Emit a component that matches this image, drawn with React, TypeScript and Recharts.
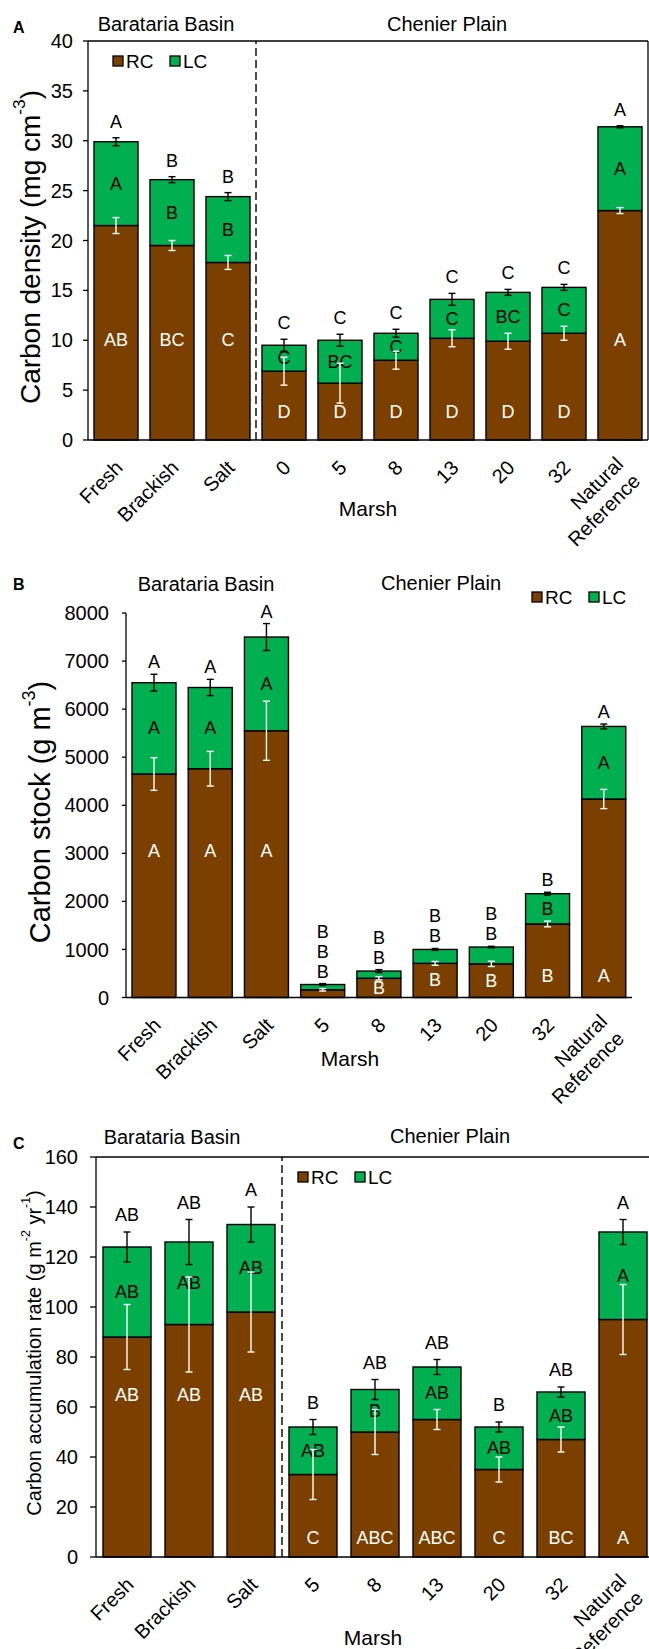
import React from 'react';
import { BarChart, Bar, XAxis, YAxis, ReferenceLine } from 'recharts';

const FONT = '"Liberation Sans", Arial, sans-serif';
const RC_COLOR = '#7B3F00';
const LC_COLOR = '#00B050';

// ---------- Panel A: carbon density (mg cm-3) ----------
const catsA = ['Fresh', 'Brackish', 'Salt', '0', '5', '8', '13', '20', '32', 'Natural Reference'];
const rcA = [21.5, 19.5, 17.8, 6.9, 5.7, 8.0, 10.2, 9.9, 10.7, 23.0];
const lcA = [8.4, 6.6, 6.6, 2.6, 4.3, 2.7, 3.9, 4.9, 4.6, 8.4];
const totErrA = [0.4, 0.3, 0.4, 0.6, 0.6, 0.4, 0.6, 0.3, 0.3, 0.1];
const rcErrA = [0.8, 0.5, 0.7, 1.4, 2.0, 0.9, 0.85, 0.8, 0.7, 0.3];
const topLetA = ['A', 'B', 'B', 'C', 'C', 'C', 'C', 'C', 'C', 'A'];
const lcLetA = ['A', 'B', 'B', 'C', 'BC', 'C', 'C', 'BC', 'C', 'A'];
const rcLetA = ['AB', 'BC', 'C', 'D', 'D', 'D', 'D', 'D', 'D', 'A'];
const ticksA = [0, 5, 10, 15, 20, 25, 30, 35, 40];

// ---------- Panel B: carbon stock (g m-3) ----------
const catsB = ['Fresh', 'Brackish', 'Salt', '5', '8', '13', '20', '32', 'Natural Reference'];
const rcB = [4650, 4760, 5550, 160, 400, 710, 700, 1530, 4130];
const lcB = [1900, 1690, 1950, 110, 150, 290, 350, 630, 1510];
const totErrB = [175, 170, 280, 20, 30, 20, 15, 30, 50];
const rcErrB = [340, 360, 615, 25, 35, 40, 55, 60, 200];
const topLetB = ['A', 'A', 'A', 'B', 'B', 'B', 'B', 'B', 'A'];
const lcLetB = ['A', 'A', 'A', 'B', 'B', 'B', 'B', 'B', 'A'];
const rcLetB = ['A', 'A', 'A', 'B', 'B', 'B', 'B', 'B', 'A'];
const ticksB = [0, 1000, 2000, 3000, 4000, 5000, 6000, 7000, 8000];

// ---------- Panel C: carbon accumulation rate (g m-2 yr-1) ----------
const catsC = ['Fresh', 'Brackish', 'Salt', '5', '8', '13', '20', '32', 'Natural Reference'];
const rcC = [88, 93, 98, 33, 50, 55, 35, 47, 95];
const lcC = [36, 33, 35, 19, 17, 21, 17, 19, 35];
const totErrC = [6, 9, 7, 3, 4, 3, 2, 2, 5];
const rcErrC = [13, 19, 16, 10, 9, 4, 5, 5, 14];
const topLetC = ['AB', 'AB', 'A', 'B', 'AB', 'AB', 'B', 'AB', 'A'];
const lcLetC = ['AB', 'AB', 'AB', 'AB', 'B', 'AB', 'AB', 'AB', 'A'];
const rcLetC = ['AB', 'AB', 'AB', 'C', 'ABC', 'ABC', 'C', 'BC', 'A'];
const ticksC = [0, 20, 40, 60, 80, 100, 120, 140, 160];

type Panel = {
  cats: string[]; rc: number[]; lc: number[]; totErr: number[]; rcErr: number[];
  top: string[]; lcLet: string[]; rcLet: string[];
  basinLift: number; otherLift: number; nrWithBasin: boolean; aboveGap: number;
};

const panelA: Panel = { cats: catsA, rc: rcA, lc: lcA, totErr: totErrA, rcErr: rcErrA, top: topLetA, lcLet: lcLetA, rcLet: rcLetA, basinLift: 100, otherLift: 28, nrWithBasin: true, aboveGap: 16 };
const panelB: Panel = { cats: catsB, rc: rcB, lc: lcB, totErr: totErrB, rcErr: rcErrB, top: topLetB, lcLet: lcLetB, rcLet: rcLetB, basinLift: 147, otherLift: 22, nrWithBasin: false, aboveGap: 12 };
const panelC: Panel = { cats: catsC, rc: rcC, lc: lcC, totErr: totErrC, rcErr: rcErrC, top: topLetC, lcLet: lcLetC, rcLet: rcLetC, basinLift: 162, otherLift: 19, nrWithBasin: false, aboveGap: 17 };

const buildData = (p: Panel) => p.cats.map((c, i) => ({ cat: c, rc: p.rc[i], lc: p.lc[i], idx: i }));

const LET_SIZE = 18;

function ErrBar({ cx, yc, half, color }: { cx: number; yc: number; half: number; color: string }) {
  const cap = 3.5;
  return (
    <g stroke={color} strokeWidth={1.4}>
      <line x1={cx} x2={cx} y1={yc - half} y2={yc + half} />
      <line x1={cx - cap} x2={cx + cap} y1={yc - half} y2={yc - half} />
      <line x1={cx - cap} x2={cx + cap} y1={yc + half} y2={yc + half} />
    </g>
  );
}

function makeLcShape(p: Panel) {
  return (props: any) => {
    const { x, y, width, height, payload } = props;
    const i = payload.idx;
    const k = height / p.lc[i];
    const cx = x + width / 2;
    const rcTop = y + height;
    const rcPx = p.rc[i] * k;
    const base = rcTop + rcPx;
    const tE = p.totErr[i] * k;
    const rE = p.rcErr[i] * k;
    const errTop = y - tE;
    const lcInside = height >= 20;
    const rcInside = rcPx >= 15;
    const above: string[] = [p.top[i]];
    if (!lcInside) above.push(p.lcLet[i]);
    if (!rcInside) above.push(p.rcLet[i]);
    const isBasin = i < 3 || (p.nrWithBasin && i === p.cats.length - 1);
    const lift = isBasin ? p.basinLift : Math.min(p.otherLift, rcPx / 2);
    const txt = (s: string, yy: number, fill: string, key: string) => (
      <text key={key} x={cx} y={yy} textAnchor="middle" dominantBaseline="central" fontSize={LET_SIZE} fontFamily={FONT} fill={fill}>{s}</text>
    );
    return (
      <g>
        <rect x={x} y={y} width={width} height={height} fill={LC_COLOR} stroke="#000" strokeWidth={1.4} />
        {lcInside && txt(p.lcLet[i], y + height / 2, '#000', 'lc')}
        {rcInside && txt(p.rcLet[i], base - lift, '#fff', 'rc')}
        <ErrBar cx={cx} yc={rcTop} half={rE} color="#fff" />
        <ErrBar cx={cx} yc={y} half={tE} color="#000" />
        {above.map((s, j) => txt(s, errTop - p.aboveGap - j * 20, '#000', 'a' + j))}
      </g>
    );
  };
}

function XTick(props: any) {
  const { x, y, payload } = props;
  const lines = String(payload.value).split(' ');
  const first = lines.length > 1 ? -5 : 0;
  return (
    <g transform={`translate(${x + 3},${y + 24})`}>
      <g transform="rotate(-45)">
        {lines.map((ln, i) => (
          <text key={i} x={0} y={first + i * 24} textAnchor="end" dominantBaseline="central" fontSize={20} fontFamily={FONT} fill="#000">{ln}</text>
        ))}
      </g>
    </g>
  );
}

type ChartCfg = {
  p: Panel; top: number; width: number; height: number;
  margin: { top: number; right: number; left: number; bottom: number };
  domain: [number, number]; ticks: number[]; tickSize: number; tickMargin: number; gap: number;
  dashedBefore?: string; topBorder?: boolean; rightBorder?: boolean;
};

function Panel({ cfg }: { cfg: ChartCfg }) {
  const data = buildData(cfg.p);
  const last = cfg.p.cats[cfg.p.cats.length - 1];
  return (
    <div style={{ position: 'absolute', left: 0, top: cfg.top, width: 649, height: cfg.height, overflow: 'hidden' }}>
      <BarChart width={cfg.width} height={cfg.height} data={data} margin={cfg.margin} barCategoryGap={cfg.gap}>
        <XAxis dataKey="cat" interval={0} tickLine={false} tickSize={0} tickMargin={0} height={80}
          axisLine={{ stroke: '#000', strokeWidth: 1.3 }} tick={<XTick />} />
        <YAxis type="number" domain={cfg.domain} ticks={cfg.ticks} interval={0} width={60}
          tickSize={cfg.tickSize} tickMargin={cfg.tickMargin}
          axisLine={{ stroke: '#000', strokeWidth: 1.3 }} tickLine={{ stroke: '#000', strokeWidth: 1.3 }}
          tick={{ fontSize: 20, fontFamily: FONT, fill: '#000' }} />
        {cfg.topBorder && <ReferenceLine y={cfg.domain[1]} stroke="#000" strokeWidth={1.3} />}
        {cfg.rightBorder && <ReferenceLine x={last} position="end" stroke="#000" strokeWidth={1.3} />}
        {cfg.dashedBefore && <ReferenceLine x={cfg.dashedBefore} position="start" stroke="#000" strokeWidth={1.4} strokeDasharray="8 4" />}
        <Bar dataKey="rc" stackId="s" fill={RC_COLOR} stroke="#000" strokeWidth={1.4} isAnimationActive={false} />
        <Bar dataKey="lc" stackId="s" fill={LC_COLOR} isAnimationActive={false} shape={makeLcShape(cfg.p)} />
      </BarChart>
    </div>
  );
}

const cfgA: ChartCfg = { p: panelA, top: 0, width: 649, height: 560, margin: { top: 41, right: 1, left: 28, bottom: 40 }, domain: [0, 40], ticks: ticksA, tickSize: 5, tickMargin: 10, gap: 6, dashedBefore: '0', topBorder: true, rightBorder: true };
const cfgB: ChartCfg = { p: panelB, top: 540, width: 649, height: 570, margin: { top: 73, right: 17, left: 66, bottom: 32.5 }, domain: [0, 8000], ticks: ticksB, tickSize: 4, tickMargin: 13, gap: 6 };
const cfgC: ChartCfg = { p: panelC, top: 1100, width: 655, height: 549, margin: { top: 57, right: 1, left: 36, bottom: 12 }, domain: [0, 160], ticks: ticksC, tickSize: 6, tickMargin: 12, gap: 7, dashedBefore: '5', topBorder: true };

function Legend({ x1, x2, y }: { x1: number; x2: number; y: number }) {
  return (
    <g fontFamily={FONT} fontSize={19} fill="#000">
      <rect x={x1} y={y - 5} width={10} height={10} fill={RC_COLOR} stroke="#000" strokeWidth={1.3} />
      <text x={x1 + 13} y={y} dominantBaseline="central">RC</text>
      <rect x={x2} y={y - 5} width={10} height={10} fill={LC_COLOR} stroke="#000" strokeWidth={1.3} />
      <text x={x2 + 13} y={y} dominantBaseline="central">LC</text>
    </g>
  );
}

function YTitle({ x, y, size, main, parts }: { x: number; y: number; size: number; main: string; parts: [string, string][] }) {
  return (
    <text transform={`translate(${x},${y}) rotate(-90)`} textAnchor="middle" dominantBaseline="central" fontSize={size} fontFamily={FONT} fill="#000">
      {main}
      {parts.map(([sup, after], i) => (
        <React.Fragment key={i}>
          <tspan dy={-size * 0.38} fontSize={size * 0.62}>{sup}</tspan>
          <tspan dy={size * 0.38}>{after}</tspan>
        </React.Fragment>
      ))}
    </text>
  );
}

function Overlay() {
  const t = { fontFamily: FONT, fill: '#000' };
  return (
    <svg width={649} height={1649} style={{ position: 'absolute', left: 0, top: 0, pointerEvents: 'none' }}>
      {/* Panel A */}
      <text x={13} y={33} fontSize={16} fontWeight="bold" {...t}>A</text>
      <text x={166} y={31} fontSize={20} textAnchor="middle" {...t}>Barataria Basin</text>
      <text x={447} y={31} fontSize={20} textAnchor="middle" {...t}>Chenier Plain</text>
      <Legend x1={113} x2={170} y={61} />
      <YTitle x={30} y={247} size={28} main="Carbon density (mg cm" parts={[['-3', ')']]} />
      <text x={368} y={508} fontSize={21} textAnchor="middle" dominantBaseline="central" {...t}>Marsh</text>

      {/* Panel B */}
      <text x={13} y={590} fontSize={16} fontWeight="bold" {...t}>B</text>
      <text x={206} y={591} fontSize={20} textAnchor="middle" {...t}>Barataria Basin</text>
      <text x={441} y={590} fontSize={20} textAnchor="middle" {...t}>Chenier Plain</text>
      <Legend x1={532} x2={589} y={597} />
      <YTitle x={40} y={812} size={29} main="Carbon stock (g m" parts={[['-3', ')']]} />
      <text x={350} y={1058} fontSize={21} textAnchor="middle" dominantBaseline="central" {...t}>Marsh</text>

      {/* Panel C */}
      <text x={13} y={1149} fontSize={16} fontWeight="bold" {...t}>C</text>
      <text x={172} y={1144} fontSize={20} textAnchor="middle" {...t}>Barataria Basin</text>
      <text x={450} y={1143} fontSize={20} textAnchor="middle" {...t}>Chenier Plain</text>
      <Legend x1={298} x2={355} y={1177} />
      <YTitle x={34} y={1353} size={20} main="Carbon accumulation rate (g m" parts={[['-2', ' yr'], ['-1', ')']]} />
      <text x={373} y={1637} fontSize={21} textAnchor="middle" dominantBaseline="central" {...t}>Marsh</text>
    </svg>
  );
}

export default function App() {
  return (
    <div style={{ position: 'absolute', left: 0, top: 0, width: 649, height: 1649, background: '#fff', overflow: 'hidden' }}>
      <Panel cfg={cfgA} />
      <Panel cfg={cfgB} />
      <Panel cfg={cfgC} />
      <Overlay />
    </div>
  );
}
